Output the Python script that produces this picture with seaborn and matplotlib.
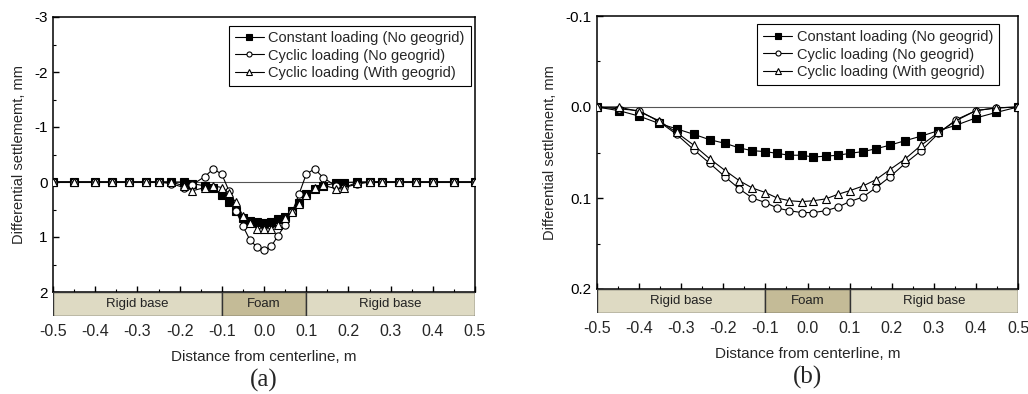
import numpy as np
import pandas as pd
import matplotlib
matplotlib.use("Agg")
import matplotlib.pyplot as plt
from matplotlib.ticker import MultipleLocator, FormatStrFormatter
import seaborn as sns

sns.set_theme(style="white")
plt.rcParams['font.family'] = ['Liberation Sans', 'DejaVu Sans']

# ---------------- data ----------------
series_names = ["Constant loading (No geogrid)",
                "Cyclic loading (No geogrid)",
                "Cyclic loading (With geogrid)"]

# panel (a)
xa = [-0.5, -0.45, -0.4, -0.36, -0.32, -0.28, -0.25, -0.22, -0.19, -0.17, -0.14, -0.12,
      -0.1, -0.083, -0.067, -0.05, -0.033, -0.017, 0.0, 0.017, 0.033, 0.05, 0.067, 0.083,
      0.1, 0.12, 0.14, 0.17, 0.19, 0.22, 0.25, 0.28, 0.32, 0.36, 0.4, 0.45, 0.5]
a_constant = [0, 0, 0, 0, 0, 0, 0, 0, 0.0, 0.03, 0.07, 0.11,
              0.23, 0.37, 0.52, 0.65, 0.70, 0.73, 0.74, 0.73, 0.68, 0.64, 0.52, 0.38,
              0.22, 0.13, 0.07, 0.02, 0.01, 0, 0, 0, 0, 0, 0, 0, 0]
a_cyclic = [0, 0, 0, 0, 0, 0, 0, 0.03, 0.10, 0.05, -0.10, -0.24,
            -0.14, 0.16, 0.52, 0.80, 1.06, 1.18, 1.24, 1.17, 0.98, 0.78, 0.54, 0.22,
            -0.14, -0.24, -0.08, 0.07, 0.10, 0.04, 0, 0, 0, 0, 0, 0, 0]
a_geogrid = [0, 0, 0, 0, 0, 0, 0, 0, 0.07, 0.16, 0.10, 0.07,
             0.10, 0.20, 0.37, 0.61, 0.74, 0.85, 0.85, 0.85, 0.78, 0.66, 0.54, 0.40,
             0.24, 0.10, 0.06, 0.12, 0.10, 0.01, 0, 0, 0, 0, 0, 0, 0]

# panel (b)
xb = [-0.5, -0.448, -0.4, -0.353, -0.311, -0.27, -0.232, -0.195, -0.162, -0.131, -0.1,
      -0.072, -0.043, -0.014, 0.014, 0.043, 0.072, 0.1, 0.131, 0.162, 0.195, 0.232,
      0.27, 0.311, 0.353, 0.4, 0.448, 0.5]
b_constant = [0, 0.004, 0.010, 0.018, 0.024, 0.030, 0.036, 0.040, 0.045, 0.048, 0.049,
              0.051, 0.053, 0.053, 0.055, 0.054, 0.053, 0.051, 0.049, 0.046, 0.042, 0.037,
              0.032, 0.026, 0.020, 0.012, 0.006, 0]
b_cyclic = [0, 0.002, 0.004, 0.016, 0.030, 0.047, 0.062, 0.077, 0.090, 0.100, 0.105,
            0.111, 0.114, 0.116, 0.116, 0.114, 0.110, 0.104, 0.099, 0.089, 0.077, 0.062,
            0.048, 0.029, 0.014, 0.004, 0.001, 0]
b_geogrid = [0, 0.0, 0.005, 0.015, 0.028, 0.042, 0.057, 0.070, 0.081, 0.089, 0.094,
             0.100, 0.103, 0.104, 0.103, 0.101, 0.096, 0.092, 0.087, 0.080, 0.069, 0.057,
             0.042, 0.028, 0.015, 0.004, 0.001, 0]

zone_edges = [-0.5, -0.1, 0.1, 0.5]
zone_labels = ["Rigid base", "Foam", "Rigid base"]
zone_colors = ["#DEDAC3", "#C4BB97", "#DEDAC3"]

xticks = [-0.5, -0.4, -0.3, -0.2, -0.1, 0.0, 0.1, 0.2, 0.3, 0.4, 0.5]
ylabel_a = "Differential settlememt, mm"
ylabel_b = "Differential settlement, mm"
xlabel = "Distance from centerline, m"

W, H = 1028, 394
fig = plt.figure(figsize=(W / 100, H / 100), dpi=100)


def frac(l, t, r, b):
    return [l / W, 1 - b / H, (r - l) / W, (b - t) / H]


markers = ["s", "o", "^"]
faces = ["black", "white", "white"]


def panel(main_box, strip_box, x, ys, ylim, ymaj, ymin, yfmt, ylab, letter, letter_y,
          leg_anchor):
    ax = fig.add_axes(frac(*main_box))
    ax.axhline(0, color="#555555", lw=0.8, zorder=1)
    for name, y, m, fc in zip(series_names, ys, markers, faces):
        df = pd.DataFrame({"x": x, "y": y})
        sns.lineplot(data=df, x="x", y="y", ax=ax, color="black", lw=0.8,
                     marker=m, markersize=5.2, markerfacecolor=fc,
                     markeredgecolor="black", markeredgewidth=0.8,
                     label=name, zorder=3, sort=False)
    ax.set_xlim(-0.5, 0.5)
    ax.set_ylim(ylim[1], ylim[0])
    ax.xaxis.set_major_locator(MultipleLocator(0.1))
    ax.xaxis.set_minor_locator(MultipleLocator(0.05))
    ax.yaxis.set_major_locator(MultipleLocator(ymaj))
    ax.yaxis.set_minor_locator(MultipleLocator(ymin))
    ax.yaxis.set_major_formatter(FormatStrFormatter(yfmt))
    ax.tick_params(axis="both", which="both", direction="in", top=False, right=False,
                   bottom=True, left=True, labelbottom=False, colors="black")
    ax.tick_params(which="major", length=4, width=1.0)
    ax.tick_params(which="minor", length=2, width=0.8)
    ax.tick_params(axis="y", labelsize=11, pad=4)
    ax.set_xlabel("")
    ax.set_ylabel(ylab, fontsize=10.5, labelpad=6)
    for s in ax.spines.values():
        s.set_color("black")
        s.set_linewidth(1.1)
    leg = ax.legend(loc="upper right", bbox_to_anchor=leg_anchor, fontsize=10.5,
                    frameon=True, fancybox=False, edgecolor="black", framealpha=1,
                    handlelength=2.0, handletextpad=0.3, borderpad=0.4,
                    labelspacing=0.22, markerscale=0.7, borderaxespad=0.3)
    leg.get_frame().set_linewidth(0.8)

    sx = fig.add_axes(frac(*strip_box))
    widths = np.diff(zone_edges)
    centers = [zone_edges[i] + widths[i] / 2 for i in range(len(widths))]
    sx.bar(zone_edges[:-1], [1] * len(widths), width=widths, align="edge",
           color=zone_colors, edgecolor="#333333", linewidth=1.0)
    for c, lab in zip(centers, zone_labels):
        sx.text(c, 0.5, lab, ha="center", va="center", fontsize=9.5, color="#222222")
    sx.set_xlim(-0.5, 0.5)
    sx.set_ylim(0, 1)
    sx.set_yticks([])
    sx.set_xticks(xticks)
    sx.set_xticklabels([f"{v:.1f}" for v in xticks], fontsize=11.5)
    sx.tick_params(axis="x", length=0, pad=6)
    for s in sx.spines.values():
        s.set_visible(False)
    sx.set_facecolor("none")
    sx.set_xlabel(xlabel, fontsize=11, labelpad=8)
    cx = (main_box[0] + main_box[2]) / 2
    fig.text(cx / W, 1 - letter_y / H, letter, ha="center", va="center",
             fontsize=18, family=["Liberation Serif", "DejaVu Serif"])
    return ax


panel((53, 17, 475, 292), (53, 292, 475, 316), xa, [a_constant, a_cyclic, a_geogrid],
      (-3, 2), 1, 0.5, "%g", ylabel_a, "(a)", 380, (1.0, 0.985))
panel((597, 16, 1018, 289), (597, 289, 1018, 313), xb, [b_constant, b_cyclic, b_geogrid],
      (-0.1, 0.2), 0.1, 0.05, "%.1f", ylabel_b, "(b)", 377, (0.965, 0.985))

fig.savefig("out.png", dpi=100, facecolor="white")
